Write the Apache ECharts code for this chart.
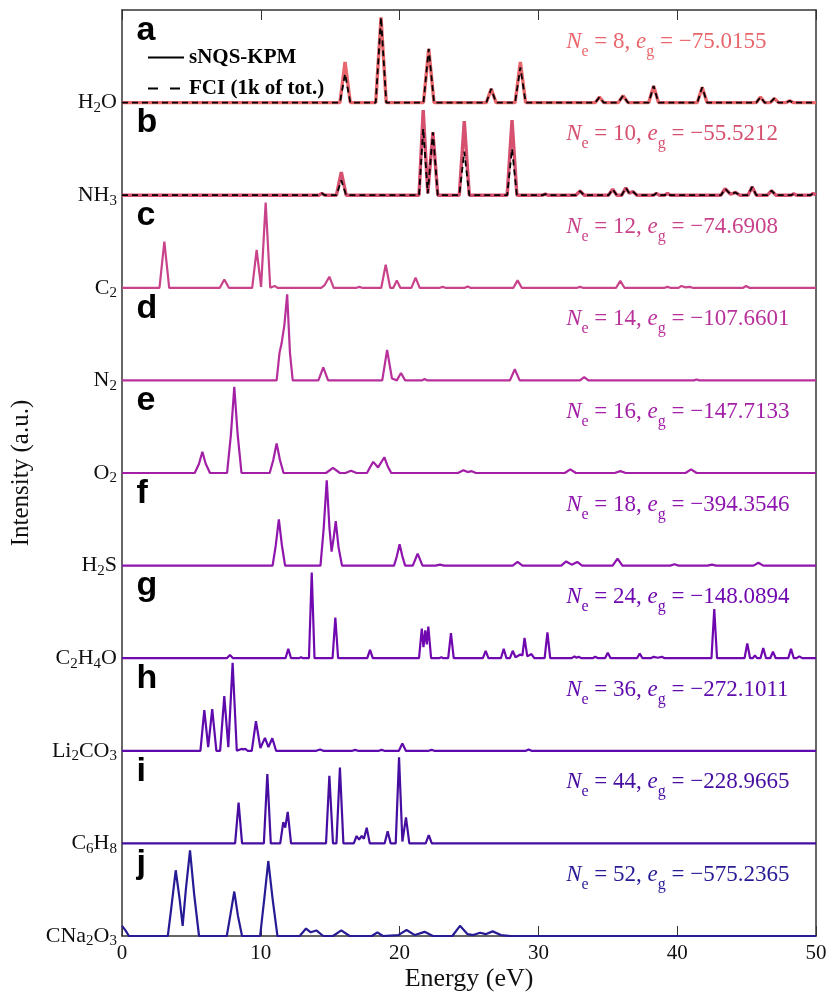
<!DOCTYPE html>
<html>
<head>
<meta charset="utf-8">
<script src="https://cdn.jsdelivr.net/npm/echarts@6/dist/echarts.min.js"></script>
<style>
  html, body { margin: 0; padding: 0; background: #fff; }
  #chart { width: 827px; height: 992px; }
</style>
</head>
<body>
<div id="chart"></div>
<script>
// spectra: [energy (eV), intensity (fraction of one panel)]
var h2oKpm = [[0,0],[15.7,0],[16.07,0.44],[16.45,0],[18.28,0],[18.66,0.92],[19.04,0],[21.72,0],[22.1,0.58],[22.48,0],
  [26.25,0],[26.6,0.15],[26.95,0],[28.32,0],[28.7,0.44],[29.08,0],[34.1,0],[34.4,0.06],[34.7,0],[35.75,0],[36.1,0.075],[36.45,0],
  [37.95,0],[38.3,0.18],[38.65,0],[41.45,0],[41.8,0.165],[42.15,0],[45.7,0],[46.0,0.06],[46.3,0],[46.7,0],[47.0,0.045],[47.3,0],
  [47.85,0],[48.1,0.02],[48.35,0],[50,0]];
var h2oFci = [[0,0],[15.7,0],[16.07,0.31],[16.45,0],[18.28,0],[18.66,0.92],[19.04,0],[21.72,0],[22.1,0.58],[22.48,0],
  [26.25,0],[26.6,0.15],[26.95,0],[28.32,0],[28.7,0.38],[29.08,0],[34.1,0],[34.4,0.06],[34.7,0],[35.75,0],[36.1,0.075],[36.45,0],
  [37.95,0],[38.3,0.18],[38.65,0],[41.45,0],[41.8,0.165],[42.15,0],[45.7,0],[46.0,0.06],[46.3,0],[46.7,0],[47.0,0.045],[47.3,0],
  [47.85,0],[48.1,0.02],[48.35,0],[50,0]];
var nh3Kpm = [[0,0],[14.2,0],[14.4,0.02],[14.6,0],[15.45,0],[15.8,0.25],[16.15,0],[21.4,0],[21.7,0.92],[22.03,0.02],[22.4,0.68],[22.75,0],
  [24.3,0],[24.66,0.8],[25.02,0],[27.75,0],[28.1,0.81],[28.45,0],[30.3,0],[30.5,0.012],[30.7,0],[32.7,0],[33.0,0.045],[33.3,0],
  [35.05,0],[35.35,0.065],[35.65,0],[36.0,0],[36.3,0.08],[36.55,0.02],[36.8,0.04],[37.1,0],[38.3,0],[38.5,0.02],[38.7,0],
  [39.1,0],[39.3,0.02],[39.5,0],[43.15,0],[43.45,0.07],[43.85,0.01],[44.2,0.03],[44.5,0],[45.1,0],[45.4,0.09],[45.7,0],
  [46.5,0],[46.8,0.05],[47.1,0],[48.2,0],[48.4,0.015],[48.6,0],[49.6,0],[49.8,0.02],[50,0]];
var nh3Fci = [[0,0],[14.2,0],[14.4,0.02],[14.6,0],[15.45,0],[15.8,0.16],[16.15,0],[21.4,0],[21.7,0.72],[22.03,0.02],[22.4,0.68],[22.75,0],
  [24.3,0],[24.66,0.47],[25.02,0],[27.75,0],[28.1,0.5],[28.45,0],[30.3,0],[30.5,0.012],[30.7,0],[32.7,0],[33.0,0.045],[33.3,0],
  [35.05,0],[35.35,0.065],[35.65,0],[36.0,0],[36.3,0.08],[36.55,0.02],[36.8,0.04],[37.1,0],[38.3,0],[38.5,0.02],[38.7,0],
  [39.1,0],[39.3,0.02],[39.5,0],[43.15,0],[43.45,0.07],[43.85,0.01],[44.2,0.03],[44.5,0],[45.1,0],[45.4,0.09],[45.7,0],
  [46.5,0],[46.8,0.05],[47.1,0],[48.2,0],[48.4,0.015],[48.6,0],[49.6,0],[49.8,0.02],[50,0]];
var c2Spec = [[0,0],[2.7,0],[3.05,0.5],[3.4,0],[7.05,0],[7.37,0.09],[7.7,0],[9.38,0],[9.7,0.41],[10.02,0.01],[10.35,0.92],[10.68,0],
  [10.8,0],[11.0,0.02],[11.2,0],[14.35,0],[14.6,0.03],[14.94,0.12],[15.25,0],[16.9,0],[17.1,0.01],[17.3,0],[18.68,0],[19.0,0.25],[19.32,0],
  [19.55,0],[19.8,0.08],[20.05,0],[20.85,0],[21.15,0.11],[21.45,0],[22.9,0],[23.1,0.01],[23.3,0],[24.7,0],[24.9,0.015],[25.1,0],
  [28.2,0],[28.5,0.08],[28.8,0],[32.8,0],[33.0,0.01],[33.2,0],[35.6,0],[35.9,0.075],[36.2,0],[39.1,0],[39.3,0.01],[39.5,0],
  [40.1,0],[40.3,0.02],[40.6,0.005],[40.9,0.01],[41.1,0],[44.75,0],[44.96,0.02],[45.2,0],[50,0]];
var n2Spec = [[0,0],[11.14,0],[11.35,0.3],[11.5,0.4],[11.7,0.6],[11.9,0.93],[12.1,0.3],[12.3,0],[14.15,0],[14.5,0.14],[14.85,0],
  [18.75,0],[19.1,0.33],[19.45,0.02],[19.8,0],[20.1,0.08],[20.4,0],[21.6,0],[21.8,0.015],[22.0,0],[27.95,0],[28.3,0.12],[28.65,0],
  [33.0,0],[33.3,0.035],[33.6,0],[41.2,0],[41.4,0.01],[41.6,0],[50,0]];
var o2Spec = [[0,0],[5.24,0],[5.55,0.1],[5.79,0.23],[6.03,0.1],[6.34,0],[7.57,0],[7.85,0.42],[8.09,0.93],[8.33,0.42],[8.61,0],
  [10.64,0],[10.9,0.14],[11.14,0.32],[11.38,0.14],[11.64,0],[14.7,0],[15.2,0.055],[15.7,0],[16.1,0],[16.5,0.025],[16.9,0],
  [17.65,0],[17.9,0.07],[18.1,0.12],[18.45,0.06],[18.9,0.17],[19.15,0.07],[19.4,0],[24.2,0],[24.6,0.03],[24.9,0.01],[25.2,0.02],[25.5,0],
  [31.9,0],[32.3,0.04],[32.7,0],[35.5,0],[35.9,0.02],[36.3,0],[40.6,0],[41.0,0.04],[41.4,0],[50,0]];
var h2sSpec = [[0,0],[10.85,0],[11.08,0.22],[11.3,0.5],[11.52,0.22],[11.75,0],[14.3,0],[14.53,0.4],[14.75,0.92],[14.95,0.4],[15.1,0.15],
  [15.25,0.3],[15.4,0.48],[15.6,0.2],[15.85,0],[19.6,0],[19.8,0.1],[20.0,0.23],[20.2,0.1],[20.4,0],[20.95,0],[21.3,0.13],[21.65,0],
  [22.6,0],[22.9,0.01],[23.2,0],[28.15,0],[28.5,0.04],[28.85,0],[31.65,0],[32.0,0.045],[32.4,0.01],[32.8,0.04],[33.15,0],
  [35.35,0],[35.7,0.075],[36.05,0],[39.5,0],[39.8,0.015],[40.1,0],[42.2,0],[42.5,0.01],[42.8,0],[45.5,0],[45.85,0.03],[46.2,0],[50,0]];
var c2h4oSpec = [[0,0],[7.55,0],[7.78,0.035],[8.0,0],[11.78,0],[11.98,0.1],[12.18,0],[12.75,0],[12.9,0.01],[13.05,0],
  [13.47,0],[13.67,0.925],[13.87,0],[15.17,0],[15.37,0.44],[15.57,0],[17.67,0],[17.87,0.09],[18.07,0],
  [21.4,0],[21.6,0.32],[21.72,0.12],[21.85,0.3],[21.96,0.15],[22.07,0.34],[22.27,0],[22.85,0],[23.0,0.01],[23.15,0],
  [23.5,0],[23.7,0.27],[23.9,0],[26.0,0],[26.2,0.08],[26.4,0],[27.3,0],[27.5,0.1],[27.7,0],[27.95,0],[28.15,0.08],[28.35,0.01],
  [28.7,0.04],[28.85,0.03],[29.0,0.22],[29.2,0.02],[29.5,0.045],[29.7,0],[30.45,0],[30.65,0.28],[30.85,0],
  [32.4,0],[32.6,0.02],[32.75,0.005],[32.9,0.015],[33.1,0],[33.9,0],[34.1,0.015],[34.3,0],[34.8,0],[35.0,0.06],[35.2,0],
  [37.1,0],[37.3,0.05],[37.5,0],[38.1,0],[38.3,0.015],[38.6,0.005],[38.9,0.015],[39.1,0],[42.47,0],[42.67,0.53],[42.87,0],
  [44.85,0],[45.05,0.16],[45.25,0],[45.45,0],[45.6,0.03],[45.75,0],[46.0,0],[46.2,0.11],[46.4,0],[46.7,0],[46.9,0.07],[47.1,0],
  [48.0,0],[48.2,0.1],[48.4,0],[48.6,0],[48.8,0.02],[49.0,0],[50,0]];
var li2co3Spec = [[0,0],[5.65,0],[5.93,0.44],[6.21,0.04],[6.5,0.45],[6.8,0],[7.07,0],[7.37,0.59],[7.66,0.04],[7.97,0.95],[8.27,0],
  [8.4,0],[8.6,0.02],[8.75,0.015],[8.9,0.02],[9.05,0],[9.35,0],[9.65,0.32],[9.97,0.03],[10.3,0.14],[10.55,0.04],[10.83,0.135],[11.1,0],
  [14.0,0],[14.27,0.015],[14.5,0],[16.6,0],[16.8,0.01],[17.0,0],[18.5,0],[18.7,0.01],[18.9,0],[19.95,0],[20.2,0.08],[20.45,0],
  [22.1,0],[22.3,0.01],[22.5,0],[29.1,0],[29.3,0.015],[29.5,0],[50,0]];
var c6h8Spec = [[0,0],[8.15,0],[8.4,0.44],[8.65,0],[10.22,0],[10.47,0.75],[10.72,0],[11.4,0],[11.62,0.23],[11.76,0.17],[11.94,0.34],[12.18,0],
  [14.7,0],[14.94,0.73],[15.2,0],[15.45,0],[15.7,0.82],[15.95,0],[16.7,0],[16.9,0.08],[17.08,0.04],[17.27,0.08],[17.43,0.05],[17.63,0.17],[17.85,0],
  [18.92,0],[19.14,0.13],[19.36,0],[19.72,0],[19.96,0.93],[20.2,0.02],[20.46,0.28],[20.7,0],[21.88,0],[22.1,0.09],[22.32,0],[50,0]];
var cna2o3Spec = [[0,0.11],[0.25,0.06],[0.5,0],[3.3,0],[3.55,0.3],[3.87,0.71],[4.15,0.4],[4.37,0.11],[4.6,0.5],[4.9,0.925],[5.2,0.45],[5.55,0],
  [7.55,0],[7.8,0.22],[8.09,0.48],[8.35,0.22],[8.65,0],[9.95,0],[10.25,0.4],[10.54,0.81],[10.85,0.4],[11.2,0],
  [12.8,0],[13.26,0.08],[13.6,0.04],[14.0,0.06],[14.5,0],[15.2,0],[15.8,0.06],[16.4,0],[18.0,0],[18.4,0.04],[18.8,0],
  [19.9,0.01],[20.5,0.065],[21.1,0.01],[21.8,0.045],[22.4,0],[23.8,0],[24.35,0.11],[24.9,0.02],[25.3,0.01],[25.8,0.035],
  [26.2,0.02],[26.7,0.05],[27.3,0.01],[28.0,0],[50,0]];

// panels, top to bottom
var molecules = ['H2O', 'NH3', 'C2', 'N2', 'O2', 'H2S', 'C2H4O', 'Li2CO3', 'C6H8', 'CNa2O3'];
var letters = ['a', 'b', 'c', 'd', 'e', 'f', 'g', 'h', 'i', 'j'];
var electrons = [8, 10, 12, 14, 16, 18, 24, 36, 44, 52];
var groundEnergy = [-75.0155, -55.5212, -74.6908, -107.6601, -147.7133, -394.3546, -148.0894, -272.1011, -228.9665, -575.2365];
var kpmSpectra = [h2oKpm, nh3Kpm, c2Spec, n2Spec, o2Spec, h2sSpec, c2h4oSpec, li2co3Spec, c6h8Spec, cna2o3Spec];
var fciSpectra = [h2oFci, nh3Fci];

var colors = ['#E8676C', '#D6506F', '#C8438A', '#B8309A', '#A21FA6', '#8E14AE', '#7008B0', '#5E0AAC', '#460EA0', '#261B94'];
var SERIF = '"Liberation Serif", "DejaVu Serif", serif';
var SANS = '"Liberation Sans", Arial, sans-serif';

var chart = echarts.init(document.getElementById('chart'));

function shift(pts, off) {
    return pts.map(function (p) { return [p[0], p[1] + off]; });
}
function chem(name) {
    return name.replace(/([A-Za-z]+)|(\d+)/g, function (m, a, d) {
        return a ? '{m|' + a + '}' : '{s|' + d + '}';
    });
}

var n = molecules.length;
var series = [];
molecules.forEach(function (m, i) {
    var off = n - 1 - i;
    series.push({
        name: m + ' sNQS-KPM', type: 'line', data: shift(kpmSpectra[i], off),
        symbol: 'none', silent: true, z: 2,
        lineStyle: { color: colors[i], width: i < 2 ? 3.4 : 2.2 }
    });
    if (fciSpectra[i]) {
        series.push({
            name: m + ' FCI', type: 'line', data: shift(fciSpectra[i], off),
            symbol: 'none', silent: true, z: 3,
            lineStyle: { color: '#000', width: 1.8, type: [6, 4] }
        });
    }
});
// legend-only entries (symbol made transparent, only the line shows)
var noMark = { color: 'rgba(0,0,0,0)', borderColor: 'rgba(0,0,0,0)', borderWidth: 0 };
series.push({ name: 'sNQS-KPM', type: 'line', data: [], symbol: 'none',
    itemStyle: noMark, lineStyle: { color: '#000', width: 2.4 } });
series.push({ name: 'FCI (1k of tot.)', type: 'line', data: [], symbol: 'none',
    itemStyle: noMark, lineStyle: { color: '#000', width: 2.4, type: [10, 12] } });

// panel letters
series.push({
    name: 'letters', type: 'scatter', symbolSize: 0, silent: true, z: 5,
    itemStyle: { opacity: 1 },
    data: letters.map(function (l, i) { return { value: [1.05, n - 1 - i + 0.78], name: l }; }),
    label: { show: true, position: 'inside', align: 'left', formatter: '{b}', opacity: 1,
        fontFamily: SANS, fontWeight: 'bold', fontSize: 34, color: '#000', textBorderWidth: 0 }
});
// N_e / e_g annotations
series.push({
    name: 'notes', type: 'scatter', symbolSize: 0, silent: true, z: 5,
    itemStyle: { opacity: 1 },
    data: molecules.map(function (m, i) {
        return {
            value: [32, n - 1 - i + 0.66],
            label: {
                color: colors[i],
                formatter: '{i|N}{s|e}{t| = ' + electrons[i] + ', }{i|e}{s|g}{t| = \u2212' + Math.abs(groundEnergy[i]).toFixed(4) + '}'
            }
        };
    }),
    label: {
        show: true, position: 'inside', align: 'left', textBorderWidth: 0, opacity: 1,
        rich: {
            i: { fontFamily: SERIF, fontStyle: 'italic', fontSize: 23, lineHeight: 24 },
            t: { fontFamily: SERIF, fontSize: 23, lineHeight: 24 },
            s: { fontFamily: SERIF, fontSize: 16, lineHeight: 16, padding: [20, 0, 0, 0] }
        }
    }
});

var axisLineStyle = { color: '#333', width: 1.5 };
var option = {
    animation: false,
    backgroundColor: '#fff',
    grid: { left: 122, right: 11, top: 10, bottom: 56, containLabel: false, outerBoundsMode: 'none' },
    legend: {
        data: ['sNQS-KPM', 'FCI (1k of tot.)'],
        orient: 'vertical', left: 142, top: 42, itemWidth: 36, itemHeight: 14, itemGap: 10,
        selectedMode: false,
        textStyle: { fontFamily: SERIF, fontWeight: 'bold', fontSize: 21, color: '#000' }
    },
    xAxis: [{
        type: 'value', min: 0, max: 50, interval: 10, position: 'bottom',
        name: 'Energy (eV)', nameLocation: 'middle', nameGap: 30, nameMoveOverlap: false,
        nameTextStyle: { fontFamily: SERIF, fontSize: 26, color: '#111' },
        axisLine: { show: true, onZero: false, lineStyle: axisLineStyle },
        axisTick: { inside: true, length: 10, lineStyle: { color: '#333' } },
        axisLabel: { fontFamily: SERIF, fontSize: 21, color: '#111', margin: 7 },
        splitLine: { show: false }
    }, {
        type: 'value', min: 0, max: 50, interval: 10, position: 'top',
        axisLine: { show: true, onZero: false, lineStyle: axisLineStyle },
        axisTick: { inside: true, length: 10, lineStyle: { color: '#333' } },
        axisLabel: { show: false },
        splitLine: { show: false }
    }],
    yAxis: [{
        type: 'value', min: 0, max: 10, interval: 1, position: 'left',
        name: 'Intensity (a.u.)', nameLocation: 'middle', nameGap: 88, nameMoveOverlap: false,
        nameTextStyle: { fontFamily: SERIF, fontSize: 25, color: '#111' },
        axisLine: { show: true, onZero: false, lineStyle: axisLineStyle },
        axisTick: { show: false },
        axisLabel: {
            margin: 5,
            formatter: function (v) {
                var k = Math.round(v);
                return k < n ? chem(molecules[n - 1 - k]) : '';
            },
            rich: {
                m: { fontFamily: SERIF, fontSize: 22, lineHeight: 24, color: '#111' },
                s: { fontFamily: SERIF, fontSize: 15, lineHeight: 15, padding: [11, 0, 0, 0], color: '#111' }
            }
        },
        splitLine: { show: false }
    }, {
        type: 'value', min: 0, max: 10, interval: 1, position: 'right',
        axisLine: { show: true, onZero: false, lineStyle: axisLineStyle },
        axisTick: { show: false }, axisLabel: { show: false },
        splitLine: { show: false }
    }],
    series: series
};
chart.setOption(option);
</script>
</body>
</html>
